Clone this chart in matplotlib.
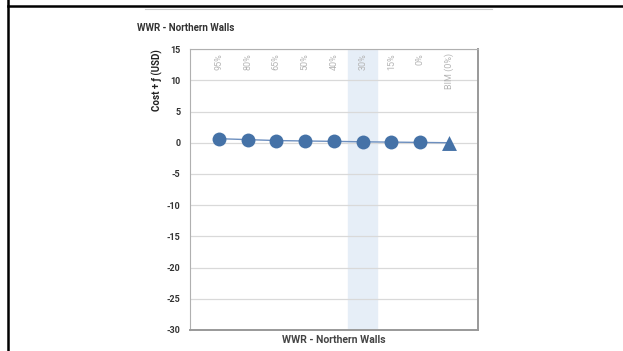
import matplotlib
matplotlib.use("Agg")
import matplotlib.pyplot as plt
from matplotlib.lines import Line2D

categories = ["95%", "80%", "65%", "50%", "40%", "30%", "15%", "0%", "BIM (0%)"]
cost_delta = [0.65, 0.5, 0.35, 0.28, 0.22, 0.15, 0.1, 0.05, 0.0]
highlight = "30%"
y_ticks = [15, 10, 5, 0, -5, -10, -15, -20, -25, -30]

plt.rcParams["axes.unicode_minus"] = False
FONT = ["Roboto", "DejaVu Sans"]
BLUE = "#4572A7"

fig = plt.figure(figsize=(6.23, 3.51), dpi=100)
ax = fig.add_axes([0.305, 0.06, 0.462, 0.80])

xs = list(range(1, len(categories) + 1))
ax.set_xlim(0, len(categories) + 1)
ax.set_ylim(min(y_ticks), max(y_ticks))

# highlighted category band
hx = xs[categories.index(highlight)]
ax.axvspan(hx - 0.5, hx + 0.5, color="#e6eef7", zorder=0)

ax.set_yticks(y_ticks)
ax.yaxis.grid(True, color="#d9d9d9", lw=0.9)
ax.set_axisbelow(True)
ax.set_xticks([])
ax.tick_params(axis="y", length=0, pad=7, labelsize=6.5)
for lab in ax.get_yticklabels():
    lab.set_fontfamily(FONT)
    lab.set_fontweight("bold")
    lab.set_color("#333333")

for side in ["left", "top"]:
    ax.spines[side].set_color("#b0b0b0")
    ax.spines[side].set_linewidth(0.8)
for side in ["right", "bottom"]:
    ax.spines[side].set_color("#999999")
    ax.spines[side].set_linewidth(1.4)

# connecting line and markers
ax.plot(xs, cost_delta, color="#6d8fbf", lw=1.0, zorder=2)
ax.scatter(xs[:-1], cost_delta[:-1], s=100, color=BLUE, marker="o", zorder=3, linewidths=0)
ax.scatter(xs[-1:], cost_delta[-1:], s=115, color=BLUE, marker="^", zorder=3, linewidths=0)

# rotated category labels along the top of the plot
for x, c in zip(xs, categories):
    ax.text(x, 14.35, c, rotation=90, ha="center", va="top", fontsize=6.5,
            color="#b5b5b5", family=FONT)

ax.set_ylabel("Cost + ƒ (USD)", fontsize=7, fontweight="bold", family=FONT,
              color="#222222")
ax.yaxis.set_label_coords(-0.095, 0.89)
ax.set_xlabel("WWR - Northern Walls", fontsize=7.5, fontweight="bold", family=FONT,
              labelpad=4, color="#444444")

fig.text(137 / 623, 1 - 28 / 351, "WWR - Northern Walls", fontsize=7,
         fontweight="bold", family=FONT, color="#333333", va="center")

# page frame lines
fig.add_artist(Line2D([7.5 / 623, 7.5 / 623], [0, 1], color="black", lw=1.8,
                      transform=fig.transFigure))
fig.add_artist(Line2D([7.5 / 623, 1], [1 - 6 / 351, 1 - 6 / 351], color="black",
                      lw=1.8, transform=fig.transFigure))
fig.add_artist(Line2D([145 / 623, 492 / 623], [1 - 9 / 351, 1 - 9 / 351],
                      color="#cccccc", lw=0.8, transform=fig.transFigure))

fig.savefig("out.png", dpi=100)
